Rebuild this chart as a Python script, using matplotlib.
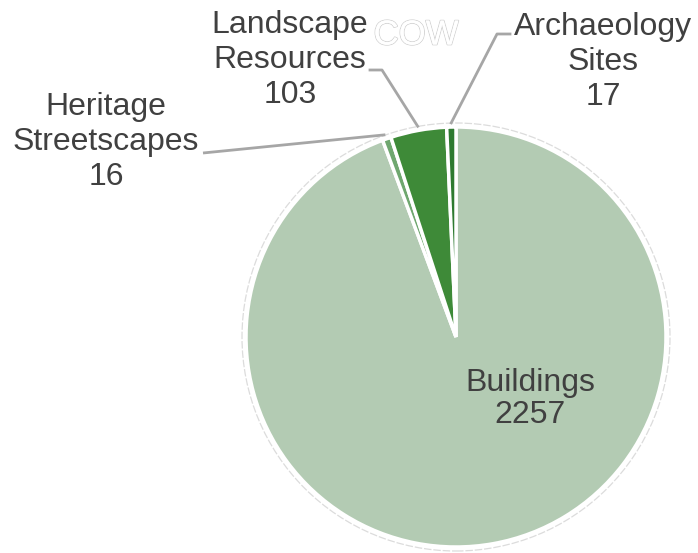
import matplotlib.pyplot as plt
import matplotlib.patheffects as pe
import numpy as np

categories = ["Buildings", "Heritage\nStreetscapes", "Landscape\nResources", "Archaeology\nSites"]
values = [2257, 16, 103, 17]
colors = ["#b3cbb3", "#6fa76f", "#3e8a38", "#2e7a30"]

W, H = 698, 553
fig = plt.figure(figsize=(W / 100, H / 100), dpi=100)
ax = fig.add_axes([0, 0, 1, 1])

cx, cy, r = 456, H - 337, 210
wedges, _ = ax.pie(values, colors=colors, startangle=90, counterclock=False,
                   center=(cx, cy), radius=r, frame=True,
                   wedgeprops=dict(edgecolor="white", linewidth=2.5))
ax.set_xlim(0, W)
ax.set_ylim(0, H)
ax.set_aspect("equal")
ax.axis("off")

# faint outline around the pie
ax.add_patch(plt.Circle((cx, cy), r + 4, fill=False, color="#dcdcdc", lw=0.9, ls=(0, (6, 1.5))))

txt = "#404040"
font = "Liberation Sans"
fs = 23

def label(x, y, s, ls=1.22):
    ax.text(x, H - y, s, ha="center", va="center", fontsize=fs, color=txt,
            family=font, linespacing=ls, multialignment="center")

def edge_point(w, k=1.02):
    a = np.deg2rad((w.theta1 + w.theta2) / 2)
    return cx + r * k * np.cos(a), cy + r * k * np.sin(a)

lc = "#a6a6a6"
# Buildings
label(530, 399, f"{categories[0]}\n{values[0]}", ls=1.12)
# Heritage Streetscapes
label(106, 142, f"{categories[1]}\n{values[1]}")
ex, ey = edge_point(wedges[1])
ax.plot([203, ex], [H - 153, ey], color=lc, lw=2, solid_capstyle="butt")
# Landscape Resources
label(290, 60, f"{categories[2]}\n{values[2]}")
ex, ey = edge_point(wedges[2])
ax.plot([370, 382, ex], [H - 70, H - 70, ey], color=lc, lw=2)
# Archaeology Sites
label(603, 62, f"{categories[3]}\n{values[3]}")
ex, ey = edge_point(wedges[3])
ax.plot([510, 497, ex], [H - 34, H - 34, ey], color=lc, lw=2)

# ghost text
ax.text(416, H - 35, "COW", ha="center", va="center", fontsize=25, color="white",
        family=font, path_effects=[pe.withStroke(linewidth=1.2, foreground="#d0d0d0"), pe.Normal()])

fig.savefig("out.png", dpi=100, facecolor="white")
